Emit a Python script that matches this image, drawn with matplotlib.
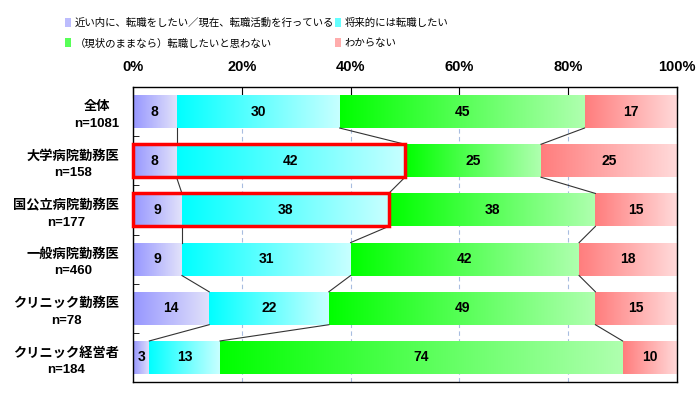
import numpy as np
import matplotlib
matplotlib.use('Agg')
import matplotlib.pyplot as plt
from matplotlib.patches import Rectangle, Patch
from matplotlib.ticker import PercentFormatter

plt.rcParams['font.family'] = ['Liberation Sans', 'Noto Sans CJK JP']

# data
categories = ['全体\nn=1081', '大学病院勤務医\nn=158', '国公立病院勤務医\nn=177',
              '一般病院勤務医\nn=460', 'クリニック勤務医\nn=78', 'クリニック経営者\nn=184']
soon = [8, 8, 9, 9, 14, 3]
future = [30, 42, 38, 31, 22, 13]
stay = [45, 25, 38, 42, 49, 74]
unknown = [17, 25, 15, 18, 15, 10]
series_names = ['近い内に、転職をしたい／現在、転職活動を行っている', '将来的には転職したい',
                '（現状のままなら）転職したいと思わない', 'わからない']
highlight_rows = [1, 2]

# gradient start / end colours for each series
grads = [((150, 150, 255), (226, 226, 250)),
         ((0, 255, 255), (200, 255, 255)),
         ((0, 255, 0), (175, 255, 175)),
         ((255, 125, 125), (255, 218, 218))]

fig = plt.figure(figsize=(6.99, 4), dpi=100)
ax = fig.add_axes([133 / 699, 1 - 382 / 400, 544 / 699, 295 / 400])

y = np.arange(len(categories))
h = 0.67
left = np.zeros(len(categories))
bounds = [left.copy()]
t = np.linspace(0, 1, 256)
for vals, (c0, c1) in zip([soon, future, stay, unknown], grads):
    c0 = np.array(c0) / 255
    c1 = np.array(c1) / 255
    img = (c0[None, :] + (c1 - c0)[None, :] * t[:, None])[None, :, :]
    bars = ax.barh(y, vals, h, left=left, color='none', edgecolor='none')
    for b, v in zip(bars, vals):
        x0, y0, w, hh = b.get_x(), b.get_y(), b.get_width(), b.get_height()
        ax.imshow(img, extent=(x0, x0 + w, y0 + hh, y0), aspect='auto',
                  interpolation='bilinear', zorder=2)
        ax.text(x0 + w / 2, y0 + hh / 2, str(v), ha='center', va='center',
                fontsize=10, fontweight='bold', zorder=4)
    left = left + np.array(vals)
    bounds.append(left.copy())

# series lines between bars
for k in range(1, 4):
    for i in range(len(categories) - 1):
        ax.plot([bounds[k][i], bounds[k][i + 1]], [i + h / 2, i + 1 - h / 2],
                color='#333333', lw=0.8, zorder=3)

# highlight boxes
for i in highlight_rows:
    ax.add_patch(Rectangle((0, i - h / 2), bounds[2][i], h, fill=False,
                           edgecolor='red', lw=2.5, zorder=5, clip_on=False))

ax.set_xlim(0, 100)
ax.set_ylim(len(categories) - 0.5, -0.5)

ax.set_axisbelow(True)
ax.xaxis.grid(True, color='#a8bde0', linestyle=(0, (4, 3)), lw=0.8)
ax.xaxis.tick_top()
ax.set_xticks([0, 20, 40, 60, 80, 100])
ax.xaxis.set_major_formatter(PercentFormatter(decimals=0))
ax.tick_params(axis='x', direction='in', length=8, pad=9, labelsize=10.5)
for lbl in ax.get_xticklabels():
    lbl.set_fontweight('bold')

ax.set_yticks(y, categories)
ax.set_yticks(np.arange(-0.5, len(categories), 1), minor=True)
ax.tick_params(axis='y', which='major', length=0, pad=10)
ax.tick_params(axis='y', which='minor', direction='in', length=4)
for lbl in ax.get_yticklabels():
    lbl.set_fontweight('bold')
    lbl.set_fontsize(9.5)
    lbl.set_multialignment('center')
    lbl.set_linespacing(1.5)

for s in ax.spines.values():
    s.set_color('black')
    s.set_linewidth(1)

# legend
mid = [tuple((np.array(a) + np.array(b)) / 510) for a, b in grads]
handles = [Patch(facecolor=c, edgecolor='none') for c in mid]
order = [0, 2, 1, 3]
fig.legend([handles[i] for i in order], [series_names[i] for i in order],
           loc='upper left', bbox_to_anchor=(60 / 699, 1 - 13 / 400), ncol=2,
           frameon=False, fontsize=7.5, handlelength=0.6, handleheight=0.9,
           handletextpad=0.3, columnspacing=0.1, labelspacing=0.95, borderpad=0)

fig.savefig('out.png', dpi=100)
